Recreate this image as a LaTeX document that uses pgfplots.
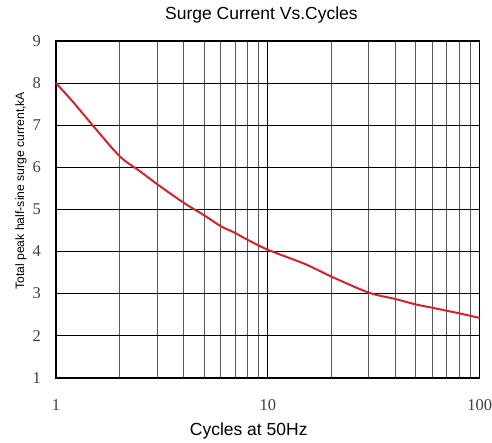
\documentclass[border=0pt]{standalone}
\usepackage{pgfplots}
\pgfplotsset{compat=1.18}
\usepackage{fontspec}
\newfontfamily\arialfont{Liberation Sans}
\newfontfamily\timesfont{Liberation Serif}
\definecolor{curvered}{RGB}{218,32,40}
\begin{document}
\begin{tikzpicture}[x=1pt,y=1pt]
\begin{axis}[
  at={(0,0)}, anchor=south west,
  scale only axis, width=424pt, height=337pt,
  xmode=log, log basis x=10,
  xmin=1, xmax=100, ymin=1, ymax=9,
  xtick={1,10,100}, xticklabels={1,10,100},
  ytick={1,2,3,4,5,6,7,8,9},
  minor xtick={2,3,4,5,6,7,8,9,20,30,40,50,60,70,80,90},
  grid=both,
  major grid style={black, line width=0.8pt},
  minor grid style={black!65, line width=0.8pt},
  axis line style={black, line width=1.6pt},
  major tick length=0pt, minor tick length=0pt,
  /pgf/number format/assume math mode=true,
  tick label style={font=\timesfont\fontsize{16.5}{19}\selectfont, text=black!75, inner sep=0pt},
  xticklabel style={anchor=base, yshift=-32.5pt},
  yticklabel style={anchor=east, xshift=-15pt},
  log ticks with fixed point,
  title={\arialfont\fontsize{17.5}{20}\selectfont Surge Current Vs.Cycles},
  title style={at={(axis description cs:0.485,1)}, anchor=base, yshift=15pt, inner sep=0pt},
  xlabel={\arialfont\fontsize{17.5}{20}\selectfont Cycles at 50Hz},
  xlabel style={at={(axis description cs:0.455,0)}, anchor=base, yshift=-58pt, inner sep=0pt},
  ylabel={\arialfont\fontsize{12.2}{15}\selectfont Total peak half-sine surge current,kA},
  ylabel style={at={(axis description cs:-0.0684,0.555)}, anchor=south, inner sep=0pt},
  clip=false,
]
\addplot[curvered, line width=2pt, smooth] coordinates {
(1,8.0) (1.2,7.56) (1.5,6.98) (2,6.26) (2.5,5.9) (3,5.6) (4,5.16) (5,4.86)
(6,4.6) (7,4.44) (8,4.28) (10,4.04) (15,3.7) (20,3.40) (30,3.02) (40,2.87)
(50,2.74) (60,2.66) (70,2.59) (80,2.53) (100,2.42)
};
\end{axis}
\path[use as bounding box] (-56,-65) rectangle (436,378);
\end{tikzpicture}
\end{document}
